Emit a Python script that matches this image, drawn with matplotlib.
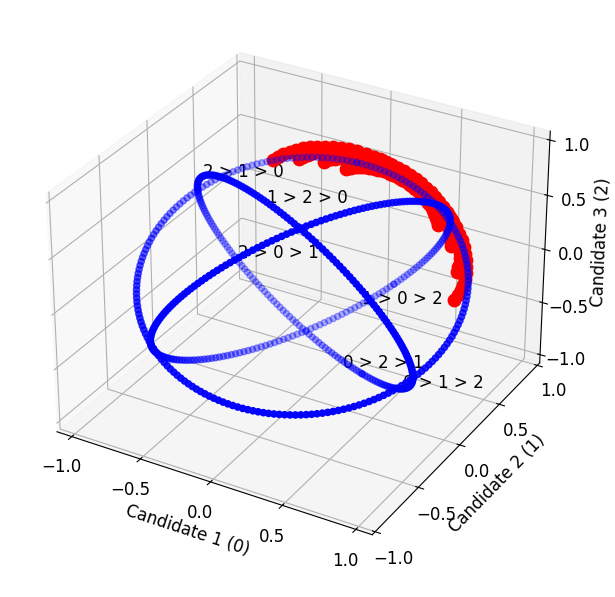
import numpy as np
import matplotlib
matplotlib.use("Agg")
import matplotlib.pyplot as plt

labels = ["0 > 1 > 2", "0 > 2 > 1", "1 > 0 > 2", "1 > 2 > 0", "2 > 0 > 1", "2 > 1 > 0"]
orders = [(0, 1, 2), (0, 2, 1), (1, 0, 2), (1, 2, 0), (2, 0, 1), (2, 1, 0)]
n_circle = 200
red_radii = [0.45, 0.6, 0.75, 0.9]
red_start = [0.2, 0.1, 0.0, -0.1]
red_end = [2.2, 2.4, 2.6, 2.8]
# orientation of the three circles (degrees)
outer_elev, outer_azim = 60, -60
inner_angles = [42, 117]

fig = plt.figure(figsize=(6.15, 5.97), dpi=100)
ax = fig.add_axes([0.01, 0.045, 0.94, 0.94], projection="3d")
ax.view_init(elev=30, azim=-60)

el, az = np.radians(outer_elev), np.radians(outer_azim)
n = np.array([np.cos(el) * np.cos(az), np.cos(el) * np.sin(az), np.sin(el)])
p = np.cross([0, 0, 1.0], n); p /= np.linalg.norm(p)
q = np.cross(n, p)
normals = [p * np.cos(np.radians(a)) + q * np.sin(np.radians(a)) for a in inner_angles] + [n]

t = np.linspace(0, 2 * np.pi, n_circle)
for nv in normals:
    nv = nv / np.linalg.norm(nv)
    u = np.cross(nv, [1, 0, 0.3]); u /= np.linalg.norm(u)
    w = np.cross(nv, u)
    pts = np.outer(np.cos(t), u) + np.outer(np.sin(t), w)
    ax.scatter(pts[:, 0], pts[:, 1], pts[:, 2], color="blue", s=20)

c = np.array([0, 1, 0.0])
e1 = np.array([-1, 0, 1.0]) / np.sqrt(2)
e2 = np.array([1, 0, 1.0]) / np.sqrt(2)
for r, a0, a1 in zip(red_radii, red_start, red_end):
    a = np.linspace(a0, a1, 40)
    pts = np.cos(r) * c + np.sin(r) * (np.outer(np.cos(a), e1) + np.outer(np.sin(a), e2))
    ax.scatter(pts[:, 0], pts[:, 1], pts[:, 2], color="red", s=80, depthshade=False)

for lab, o in zip(labels, orders):
    v = np.zeros(3)
    v[o[0]] = 1; v[o[2]] = -1
    v /= np.linalg.norm(v)
    ax.text(v[0], v[1], v[2], lab, fontsize=12)

ax.set_xlabel("Candidate 1 (0)", fontsize=12)
ax.set_ylabel("Candidate 2 (1)", fontsize=12)
ax.set_zlabel("Candidate 3 (2)", fontsize=12)
ax.tick_params(labelsize=12)
ax.set_xticks([-1, -0.5, 0, 0.5, 1])
ax.set_yticks([-1, -0.5, 0, 0.5, 1])
ax.set_zticks([-1, -0.5, 0, 0.5, 1])
fig.savefig("out.png")
